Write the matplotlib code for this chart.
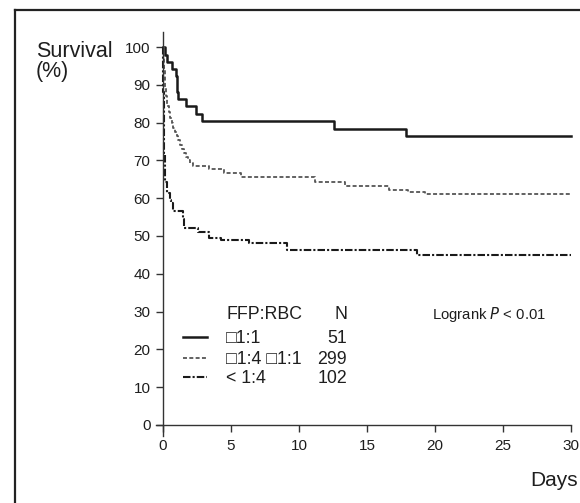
import matplotlib
matplotlib.use("Agg")
import matplotlib.pyplot as plt
from matplotlib.lines import Line2D

plt.rcParams['font.family'] = ['Liberation Sans', 'DejaVu Sans']

# ---- data ----
days_hi = [0, 0.12, 0.27, 0.69, 0.93, 1.05, 1.13, 1.69, 2.43, 2.84, 12.6, 17.9, 30]
surv_hi = [100, 98.0, 96.1, 94.1, 92.2, 88.2, 86.3, 84.3, 82.4, 80.4, 78.3, 76.4, 76.4]

days_mid = [0, 0.04, 0.08, 0.12, 0.18, 0.25, 0.32, 0.42, 0.52, 0.64, 0.76, 0.88, 1.0,
            1.13, 1.27, 1.41, 1.54, 1.7, 1.85, 2.0, 2.2, 3.4, 4.5, 5.7, 11.2, 13.4,
            16.6, 18.0, 19.3, 30]
surv_mid = [100, 97, 94.5, 92, 89.5, 87, 84.5, 82.8, 81.3, 80, 78.7, 77.5, 76.4,
            75.3, 74.2, 73.0, 72.0, 71.0, 70.1, 69.4, 68.5, 67.6, 66.7, 65.7, 64.4, 63.2,
            62.2, 61.6, 61.1, 61.1]

days_lo = [0, 0.01, 0.02, 0.03, 0.05, 0.07, 0.09, 0.11, 0.13, 0.15, 0.27, 0.51, 0.6,
           0.72, 1.45, 1.58, 2.6, 3.4, 4.3, 6.3, 9.15, 18.7, 30]
surv_lo = [100, 96, 92, 88, 84, 80, 76, 72, 68, 64.3, 61.3, 59.5, 58.6,
           56.5, 54.6, 52.2, 51.0, 49.5, 48.9, 48.2, 46.3, 45.0, 45.0]

group_labels = ["\u25a11:1", "\u25a11:4 \u25a11:1", "< 1:4"]
group_n = ["51", "299", "102"]
x_ticks = [0, 5, 10, 15, 20, 25, 30]
y_ticks = [0, 10, 20, 30, 40, 50, 60, 70, 80, 90, 100]

W, H = 580, 503
fig = plt.figure(figsize=(5.8, 5.03), dpi=100)
ax = fig.add_axes([156.2 / W, 1 - 436.3 / H, (573.7 - 156.2) / W, (436.3 - 31.9) / H])
ax.set_xlim(-0.5, 30.2)
ax.set_ylim(-3, 104)

dark = '#1a1a1a'
styles = [
    dict(color=dark, lw=1.8, linestyle='-'),
    dict(color='#555555', lw=1.3, linestyle=(0, (2.2, 1.3))),
    dict(color=dark, lw=1.5, linestyle=(0, (3.6, 1.0, 1.0, 1.0))),
]
ax.step(days_hi, surv_hi, where='post', **styles[0])
ax.step(days_mid, surv_mid, where='post', **styles[1])
ax.step(days_lo, surv_lo, where='post', **styles[2])

for s in ['top', 'right']:
    ax.spines[s].set_visible(False)
ax.spines['left'].set_position(('data', 0))
ax.spines['bottom'].set_position(('data', 0))
ax.spines['left'].set_bounds(-3, 104)
ax.spines['bottom'].set_bounds(-0.5, 30)
for s in ['left', 'bottom']:
    ax.spines[s].set_color('#333333')
    ax.spines[s].set_linewidth(1.0)
ax.set_xticks(x_ticks)
ax.set_yticks(y_ticks)
ax.tick_params(axis='both', direction='out', length=5, width=1.0, color='#333333',
               labelsize=11, labelcolor='#1e1e1e')
ax.tick_params(axis='y', pad=4)
ax.tick_params(axis='x', pad=5)

def fx(px):
    return px / W

def fy(py):
    return 1 - py / H

tc = '#1e1e1e'
fig.text(fx(36), fy(57), "Survival", fontsize=15.5, color=tc, va='baseline', ha='left')
fig.text(fx(36), fy(77), "(%)", fontsize=15.5, color=tc, va='baseline', ha='left')
fig.text(fx(578), fy(486), "Days", fontsize=15, color=tc, va='baseline', ha='right')

# legend-like table
lf = 12.8
fig.text(fx(226), fy(319), "FFP:RBC", fontsize=lf, color=tc, va='baseline')
fig.text(fx(347), fy(319), "N", fontsize=lf, color=tc, va='baseline', ha='right')
fig.text(fx(432), fy(319), "Logrank $P$ < 0.01", fontsize=10.7, color=tc, va='baseline')
row_base = [343, 364, 383]
for i in range(3):
    yb = row_base[i]
    ln = Line2D([fx(183), fx(207)], [fy(yb - 6.5), fy(yb - 6.5)], transform=fig.transFigure,
                **styles[i])
    fig.add_artist(ln)
    fig.text(fx(226), fy(yb), group_labels[i], fontsize=lf, color=tc, va='baseline',
             family=['Liberation Sans', 'DejaVu Sans'])
    fig.text(fx(347), fy(yb), group_n[i], fontsize=lf, color=tc, va='baseline', ha='right')

# outer frame lines
fig.add_artist(Line2D([fx(15), fx(580)], [fy(10), fy(10)], transform=fig.transFigure,
                      color='#222222', lw=1.6))
fig.add_artist(Line2D([fx(15), fx(15)], [fy(10), fy(503)], transform=fig.transFigure,
                      color='#222222', lw=1.6))

fig.savefig("out.png", dpi=100)
